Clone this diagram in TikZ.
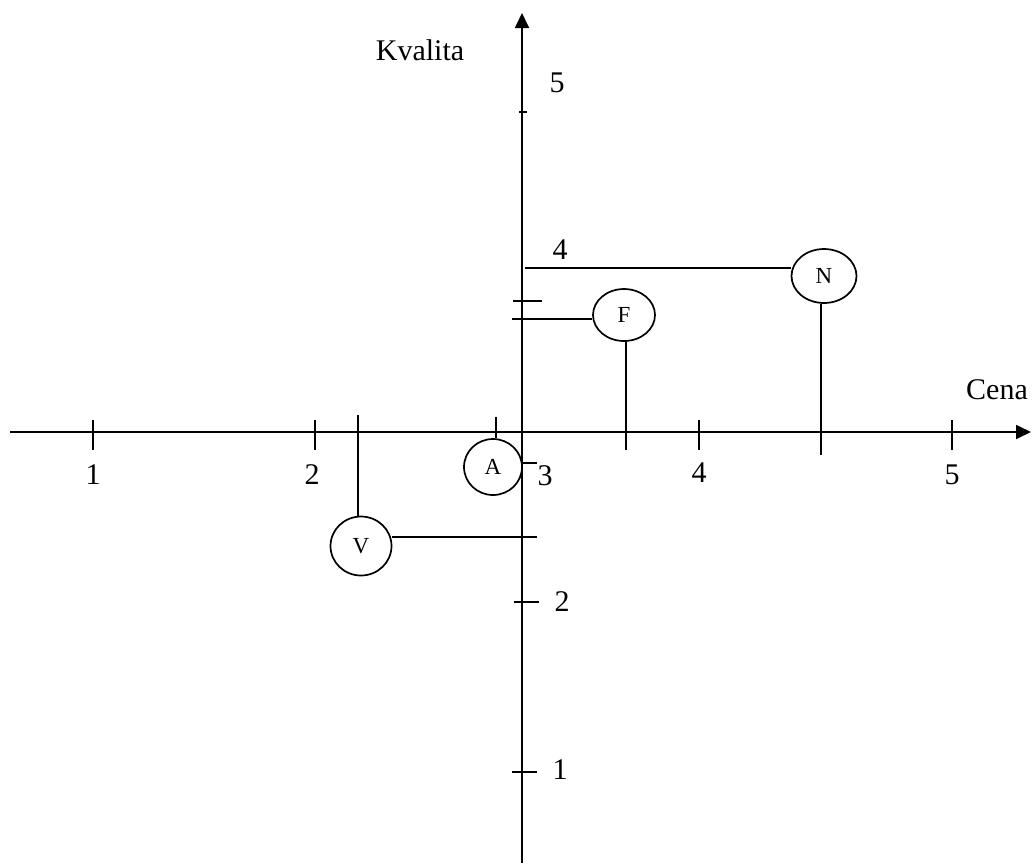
\documentclass[tikz,border=0pt]{standalone}
\usepackage{fontspec}
\setmainfont{Liberation Serif}
\usetikzlibrary{arrows.meta,shapes.geometric}
\begin{document}
\begin{tikzpicture}[x=1pt,y=-1pt,line width=1.7pt,
  lbl/.style={font=\fontsize{30}{30}\selectfont, inner sep=0pt},
  firm/.style={draw, ellipse, inner sep=0pt, font=\fontsize{23}{23}\selectfont},
  axis/.style={-{Triangle[length=15pt,width=14pt]}}]
\useasboundingbox (0,0) rectangle (1032,863);

% axes
\coordinate (xl) at (10,432);
\coordinate (xr) at (1031,432);
\coordinate (yb) at (522,863);
\coordinate (yt) at (522,13);
\draw[axis] (xl) -- (xr);
\draw[axis] (yb) -- (yt);

% ticks on the price axis
\foreach \x in {93,315,699,952} \draw (\x,420) -- (\x,450);

% ticks on the quality axis
\draw (519,112) -- (527,112);
\draw (513,301) -- (542,301);
\draw (514,602) -- (539,602);
\draw (512,772) -- (537,772);
\draw (522,463) -- (537,463);

% axis numbers
\node[lbl] (h1) at (93,475) {1};
\node[lbl] (h2) at (312,475) {2};
\node[lbl] (h3) at (545,476) {3};
\node[lbl] (h4) at (699,473) {4};
\node[lbl] (h5) at (952,475) {5};
\node[lbl] (v5) at (557,83) {5};
\node[lbl] (v4) at (560,250) {4};
\node[lbl] (v2) at (562,602) {2};
\node[lbl] (v1) at (560,770) {1};

% axis titles
\node[lbl] (kv) at (420,50) {Kvalita};
\node[lbl] (cena) at (997,390) {Cena};

% firms
\node[firm, minimum width=65pt, minimum height=54pt] (N) at (824,276) {N};
\node[firm, minimum width=62pt, minimum height=52pt] (F) at (624,315) {F};
\node[firm, minimum width=58pt, minimum height=56pt] (A) at (493,467) {A};
\node[firm, minimum width=61pt, minimum height=59pt] (V) at (361,546) {V};

% guide lines from the firms to the axes
\coordinate (nq) at (525,268);
\coordinate (np) at (821,455);
\coordinate (fq) at (512,319);
\coordinate (fp) at (626,450);
\coordinate (ap) at (496,417);
\coordinate (vq) at (537,537);
\coordinate (vp) at (358,415);
\draw (nq) -- (N.west |- nq);
\draw (N.south -| np) -- (np);
\draw (fq) -- (F.west |- fq);
\draw (F.south -| fp) -- (fp);
\draw (ap) -- (A.north -| ap);
\draw (V.east |- vq) -- (vq);
\draw (vp) -- (V.north -| vp);
\end{tikzpicture}
\end{document}
